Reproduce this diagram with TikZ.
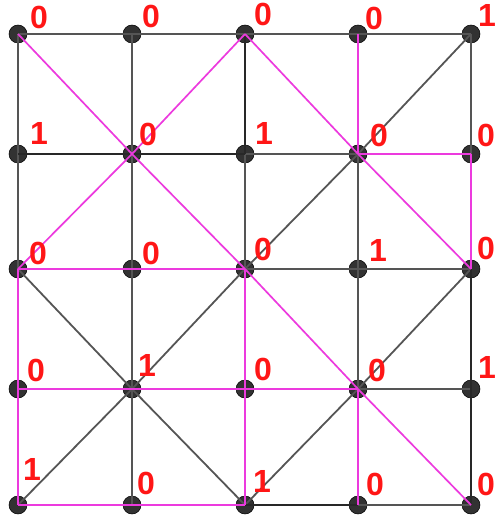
\documentclass[tikz,border=0pt]{standalone}
\usepackage{fontspec}
\setmainfont{Liberation Sans}
\definecolor{edgegray}{RGB}{85,85,85}
\definecolor{edgedark}{RGB}{40,40,40}
\definecolor{edgemag}{RGB}{236,58,222}
\definecolor{labred}{RGB}{255,22,22}
\definecolor{dotfill}{RGB}{50,50,50}
\begin{document}
\begin{tikzpicture}[x=1pt,y=-1pt,
  dot/.style={circle,fill=dotfill,draw=black,line width=0.5pt,minimum size=18pt,inner sep=0pt},
  lab/.style={text=labred,font=\fontsize{32}{32}\selectfont\bfseries,inner sep=0pt},
  ge/.style={draw=edgegray,line width=1.8pt},
  de/.style={draw=edgedark,line width=2.1pt},
  me/.style={draw=edgemag,line width=1.7pt}]
\useasboundingbox (0,0) rectangle (497,521);
% nodes
\foreach \c/\x in {0/18,1/132,2/245,3/358,4/471}{
  \foreach \r/\y in {0/34,1/154,2/269,3/389,4/505}{
    \node[dot] (n\c\r) at (\x,\y) {};
  }
}
% gray edges
\foreach \a/\b in {n00/n10,n10/n20,n20/n30,n30/n40,
  n21/n31,n22/n32,n32/n42,n33/n43,n34/n44,
  n00/n01,n01/n02,n10/n11,n11/n12,n12/n13,n13/n14,
  n21/n22,n31/n32,n32/n33,n40/n41,
  n31/n40,n31/n22,n02/n13,n13/n22,n13/n04,n13/n24,n33/n42,n33/n24}{
  \draw[ge] (\a.center) -- (\b.center);
}
% dark edges
\foreach \a/\b in {n01/n11,n11/n21,n20/n21,n24/n34,n42/n43,n43/n44}{
  \draw[de] (\a.center) -- (\b.center);
}
% magenta edges
\foreach \a/\b in {n31/n41,n02/n12,n12/n22,n03/n13,n13/n23,n23/n33,
  n04/n14,n14/n24,n02/n03,n03/n04,n22/n23,n23/n24,n30/n31,n33/n34,n41/n42,
  n00/n11,n11/n20,n11/n02,n11/n22,n20/n31,n31/n42,n22/n33,n33/n44}{
  \draw[me] (\a.center) -- (\b.center);
}
% labels
\node[lab] (l00) at (39,17) {0};
\node[lab] (l10) at (151,16) {0};
\node[lab] (l20) at (263,14) {0};
\node[lab] (l30) at (374,18) {0};
\node[lab] (l40) at (487,15) {1};
\node[lab] (l01) at (39,133) {1};
\node[lab] (l11) at (148,134) {0};
\node[lab] (l21) at (264,133) {1};
\node[lab] (l31) at (379,135) {0};
\node[lab] (l41) at (486,135) {0};
\node[lab] (l02) at (38,253) {0};
\node[lab] (l12) at (151,253) {0};
\node[lab] (l22) at (263,249) {0};
\node[lab] (l32) at (378,250) {1};
\node[lab] (l42) at (486,248) {0};
\node[lab] (l03) at (36,370) {0};
\node[lab] (l13) at (147,365) {1};
\node[lab] (l23) at (263,369) {0};
\node[lab] (l33) at (377,370) {0};
\node[lab] (l43) at (487,367) {1};
\node[lab] (l04) at (32,469) {1};
\node[lab] (l14) at (146,483) {0};
\node[lab] (l24) at (262,481) {1};
\node[lab] (l34) at (375,484) {0};
\node[lab] (l44) at (486,484) {0};
\end{tikzpicture}
\end{document}
